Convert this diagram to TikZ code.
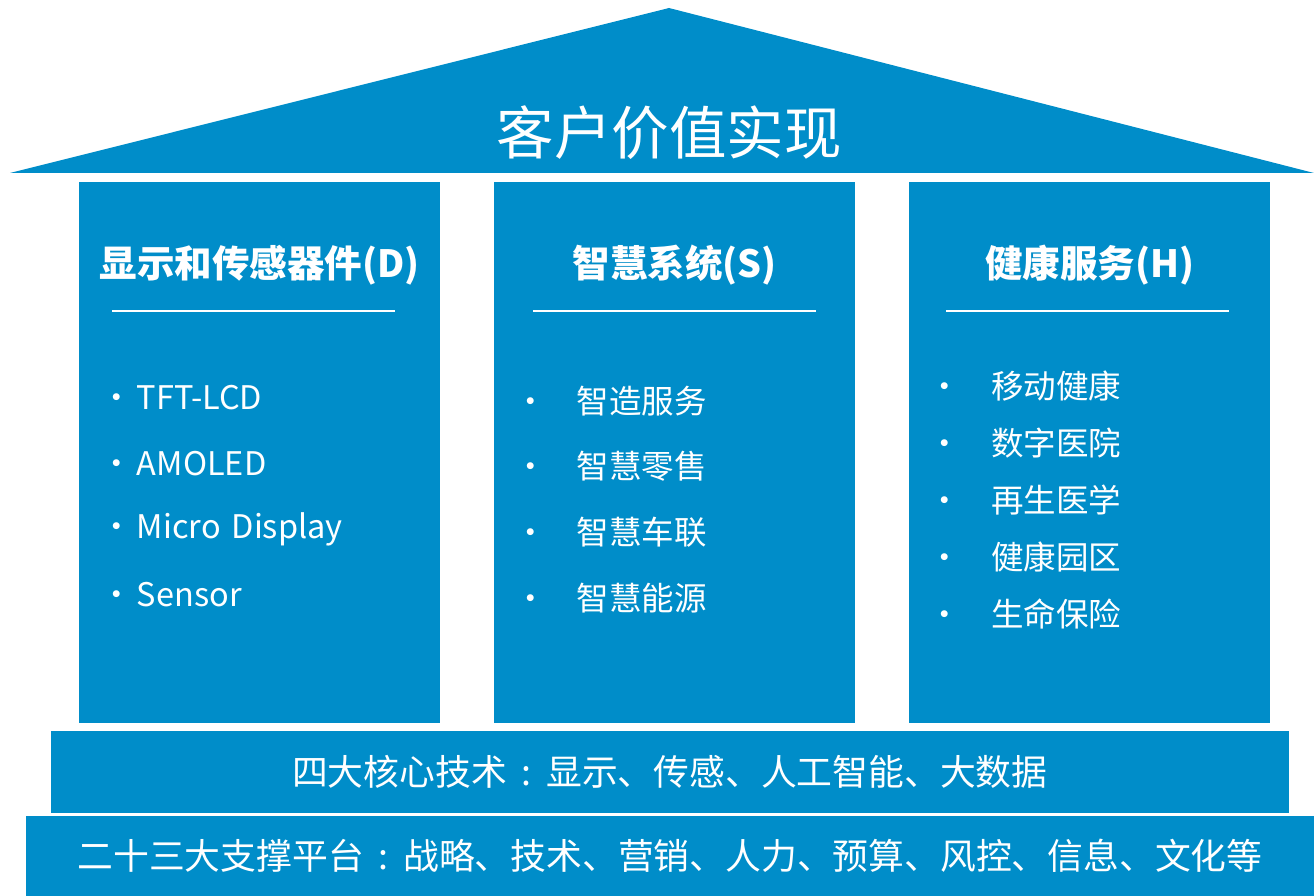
\documentclass[tikz,border=0pt]{standalone}
\usepackage{fontspec}
\setmainfont{Noto Sans CJK SC}
\usetikzlibrary{positioning}
\definecolor{houseblue}{RGB}{0,141,201}
\newcommand{\bulletgap}[1]{\makebox[0pt][c]{•}\hspace{#1}}
\newcommand{\midcolon}{\makebox[1.1em][c]{:}}
\tikzstyle{roof} = [fill=houseblue, draw=none]
\tikzstyle{pillar} = [rectangle, fill=houseblue, draw=none,
minimum width=361pt, minimum height=541pt, inner sep=0pt]
\tikzstyle{heading} = [text=white, inner sep=0pt,
font=\bfseries\fontsize{37.5}{42}\selectfont]
\tikzstyle{item} = [text=white, inner sep=0pt,
text width=290pt, align=left,
font=\fontsize{32.5}{38}\selectfont]
\tikzstyle{bar} = [rectangle, fill=houseblue, draw=none, inner sep=0pt,
text=white, font=\fontsize{35.8}{40}\selectfont]
\tikzstyle{rule} = [white, line width=1.5pt]

\begin{document}
\begin{tikzpicture}[x=1pt, y=-1pt]
\useasboundingbox (0,0) rectangle (1314,896);

% roof
\fill [roof] (10,173) -- (669,8) -- (1314,173) -- cycle;
\node (title) [text=white, inner sep=0pt, font=\fontsize{57.5}{62}\selectfont] at (669,133) {客户价值实现};

% pillars
\node (colD) [pillar] at (259.5,452.5) {};
\node (colS) [pillar] at (674.5,452.5) {};
\node (colH) [pillar] at (1089.5,452.5) {};

\node (headD) [heading] at (259.5,265) {显示和传感器件(D)};
\node (headS) [heading] at (674.5,265) {智慧系统(S)};
\node (headH) [heading] at (1089.5,265) {健康服务(H)};

\draw [rule] (112,311) -- (395,311);
\draw [rule] (533,311) -- (816,311);
\draw [rule] (946,311) -- (1229,311);

\begin{scope}[node distance=65.5pt]
\node (d1) [item] at (262,398) {\bulletgap{20pt}TFT-LCD};
\node (d2) [item, below of=d1] {\bulletgap{20pt}AMOLED};
\node (d3) [item, below of=d2] {\bulletgap{20pt}Micro Display};
\node (d4) [item, below of=d3] {\bulletgap{20pt}Sensor};
\end{scope}

\begin{scope}[node distance=65.7pt]
\node (s1) [item] at (676,401) {\bulletgap{46pt}智造服务};
\node (s2) [item, below of=s1] {\bulletgap{46pt}智慧零售};
\node (s3) [item, below of=s2] {\bulletgap{46pt}智慧车联};
\node (s4) [item, below of=s3] {\bulletgap{46pt}智慧能源};
\end{scope}

\begin{scope}[node distance=57pt]
\node (h1) [item] at (1090,386) {\bulletgap{46pt}移动健康};
\node (h2) [item, below of=h1] {\bulletgap{46pt}数字医院};
\node (h3) [item, below of=h2] {\bulletgap{46pt}再生医学};
\node (h4) [item, below of=h3] {\bulletgap{46pt}健康园区};
\node (h5) [item, below of=h4] {\bulletgap{46pt}生命保险};
\end{scope}

% foundations
\node (tech) [bar, minimum width=1238.5pt, minimum height=82pt] at (669.75,772) {四大核心技术\midcolon 显示、传感、人工智能、大数据};
\node (platform) [bar, minimum width=1288pt, minimum height=80pt] at (670,856) {二十三大支撑平台\midcolon 战略、技术、营销、人力、预算、风控、信息、文化等};
\end{tikzpicture}
\end{document}
